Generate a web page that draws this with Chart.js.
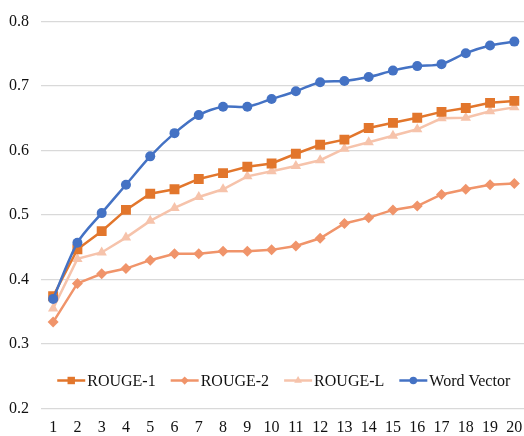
<!DOCTYPE html>
<html>
<head>
<meta charset="utf-8">
<script src="https://cdn.jsdelivr.net/npm/chart.js@4/dist/chart.umd.min.js"></script>
<style>
  html, body { margin: 0; padding: 0; background: #fff; overflow: hidden; }
  #wrap { width: 538px; height: 436px; }
  canvas { display: block; }
</style>
</head>
<body>
<div id="wrap"><canvas id="chart"></canvas></div>
<script>
// x categories
const steps = ['1','2','3','4','5','6','7','8','9','10','11','12','13','14','15','16','17','18','19','20'];

// series values
const rouge1 = [0.374,0.447,0.475,0.508,0.533,0.540,0.556,0.565,0.575,0.580,0.595,0.609,0.617,0.635,0.643,0.651,0.660,0.666,0.674,0.677];
const rouge2 = [0.334,0.394,0.409,0.417,0.430,0.440,0.440,0.444,0.444,0.446,0.452,0.464,0.487,0.496,0.508,0.514,0.532,0.540,0.547,0.549];
const rougeL = [0.355,0.432,0.442,0.465,0.491,0.511,0.528,0.540,0.560,0.568,0.576,0.585,0.603,0.613,0.623,0.633,0.650,0.651,0.661,0.667];
const wordVector = [0.370,0.457,0.503,0.547,0.591,0.627,0.655,0.668,0.668,0.680,0.692,0.706,0.708,0.714,0.724,0.731,0.734,0.751,0.763,0.769];

const FONT = "'Liberation Serif', 'Times New Roman', serif";

const series = [
  { label: 'ROUGE-1', data: rouge1, color: '#E2762C', style: 'rect', r: 7, order: 1, tension: 0 },
  { label: 'ROUGE-2', data: rouge2, color: '#F0946A', style: 'rectRot', r: 5.5, order: 2, tension: 0 },
  { label: 'ROUGE-L', data: rougeL, color: '#F6C3AB', style: 'triangle', r: 6, order: 3, tension: 0 },
  { label: 'Word Vector', data: wordVector, color: '#4472C4', style: 'circle', r: 5, order: 0, tension: 0.3 }
];

// legend drawn inside the plot area: short line with marker, then label
const inlineLegend = {
  id: 'inlineLegend',
  afterDraw(chart) {
    const ctx = chart.ctx;
    const area = chart.chartArea;
    const y = area.bottom - 28;
    const lineLen = 28, gapText = 2, gapItem = 15;
    ctx.save();
    ctx.font = '16px ' + FONT;
    const widths = series.map(s => lineLen + gapText + ctx.measureText(s.label).width);
    const total = widths.reduce((a, b) => a + b, 0) + gapItem * (series.length - 1);
    let x = (area.left + area.right) / 2 - total / 2;
    series.forEach((s, i) => {
      ctx.strokeStyle = s.color;
      ctx.lineWidth = 2.5;
      ctx.beginPath();
      ctx.moveTo(x, y);
      ctx.lineTo(x + lineLen, y);
      ctx.stroke();
      ctx.fillStyle = s.color;
      Chart.helpers.drawPoint(ctx, {
        pointStyle: s.style, radius: s.r * 0.75, rotation: 0, borderWidth: 0
      }, x + lineLen / 2, y);
      ctx.fillStyle = '#111';
      ctx.textBaseline = 'middle';
      ctx.textAlign = 'left';
      ctx.fillText(s.label, x + lineLen + gapText, y + 1);
      x += widths[i] + gapItem;
    });
    ctx.restore();
  }
};

new Chart(document.getElementById('chart'), {
  type: 'line',
  data: {
    labels: steps,
    datasets: series.map(s => ({
      label: s.label,
      data: s.data,
      borderColor: s.color,
      backgroundColor: s.color,
      borderWidth: 2.5,
      pointStyle: s.style,
      pointRadius: s.r,
      pointBorderWidth: 0,
      pointBackgroundColor: s.color,
      tension: s.tension,
      order: s.order
    }))
  },
  options: {
    responsive: true,
    maintainAspectRatio: false,
    animation: false,
    layout: { padding: { left: -3, top: 2, right: 0, bottom: -11.5 } },
    plugins: { legend: { display: false }, tooltip: { enabled: false } },
    scales: {
      x: {
        offset: true,
        grid: { display: false, drawTicks: false },
        border: { display: false },
        ticks: { color: '#111', font: { family: FONT, size: 16, lineHeight: 0.5 }, padding: 15.5, maxRotation: 0 }
      },
      y: {
        min: 0.2,
        max: 0.8,
        border: { display: false },
        grid: { color: '#d9d9d9', lineWidth: 1.2, drawTicks: false },
        ticks: {
          stepSize: 0.1,
          color: '#111',
          font: { family: FONT, size: 16 },
          padding: 12,
          callback: v => v.toFixed(1)
        }
      }
    }
  },
  plugins: [inlineLegend]
});
</script>
</body>
</html>
